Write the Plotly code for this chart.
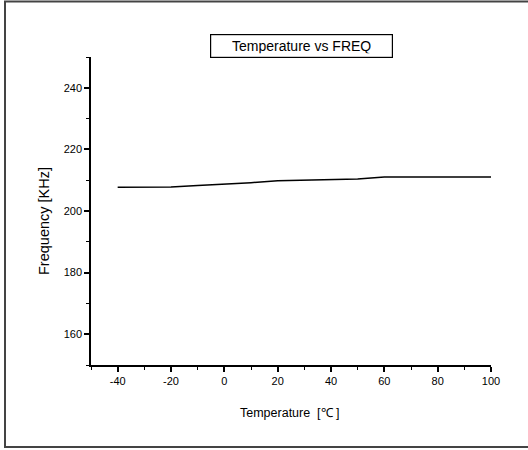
import plotly.graph_objects as go

temperature = [-40, -30, -20, -10, 0, 10, 20, 30, 40, 50, 60, 70, 80, 90, 100]
frequency = [207.7, 207.7, 207.8, 208.3, 208.7, 209.2, 209.8, 210.0, 210.1, 210.4, 211.0, 211.0, 211.0, 211.0, 211.0]

x_tick_values = [-40, -20, 0, 20, 40, 60, 80, 100]
x_tick_labels = ["-40", "-20", "0", "20", "40", "60", "80", "100"]
y_tick_values = [160, 180, 200, 220, 240]
y_tick_labels = ["160", "180", "200", "220", "240"]

title_text = "Temperature vs FREQ"
x_title = "Temperature\u00a0\u00a0[℃ ]"
y_title = "Frequency [KHz]"

W, H = 528, 450
L, R, T, B = 91, 491, 57, 365

fig = go.Figure()
fig.add_trace(go.Scatter(x=temperature, y=frequency, mode="lines",
                         line=dict(color="black", width=1.5), showlegend=False,
                         hoverinfo="skip"))

font = "Liberation Sans, Arial, sans-serif"


def px(xp):
    return (xp - L) / (R - L)


def py(yp):
    return (B - yp) / (B - T)


axis_common = dict(showgrid=False, zeroline=False,
                   showline=True, linecolor="black", linewidth=1.5,
                   ticks="outside", ticklen=5, tickwidth=1.5, tickcolor="black",
                   tickmode="array",
                   tickfont=dict(size=11, family=font, color="black"))

fig.update_layout(
    width=W, height=H,
    margin=dict(l=L, r=W - R, t=T, b=H - B),
    paper_bgcolor="white", plot_bgcolor="white",
    font=dict(family=font, size=11, color="black"),
    xaxis=dict(range=[-50, 100], tickvals=x_tick_values, ticktext=x_tick_labels,
               minor=dict(dtick=10, tick0=-50, ticks="outside", ticklen=3, tickwidth=1.2, tickcolor="black"),
               **axis_common),
    yaxis=dict(range=[150, 250], tickvals=y_tick_values, ticktext=y_tick_labels,
               minor=dict(dtick=10, tick0=150, ticks="outside", ticklen=3, tickwidth=1.2, tickcolor="black"),
               **axis_common),
    shapes=[dict(type="rect", xref="paper", yref="paper",
                 x0=px(5), x1=px(540), y0=py(447), y1=py(1.5),
                 line=dict(color="#444", width=2), fillcolor="rgba(0,0,0,0)", layer="below")],
    annotations=[
        dict(text=title_text, xref="paper", yref="paper", x=px(301.5), y=py(46),
             showarrow=False, font=dict(size=14, family=font, color="black"),
             bordercolor="black", borderwidth=1.2, borderpad=4, width=173, height=14,
             xanchor="center", yanchor="middle"),
        dict(text=x_title, xref="paper", yref="paper", x=px(290), y=py(413),
             showarrow=False, font=dict(size=12.5, family=font, color="black"),
             xanchor="center", yanchor="middle"),
        dict(text=y_title, xref="paper", yref="paper", x=px(44), y=py(221),
             showarrow=False, font=dict(size=14.5, family=font, color="black"),
             textangle=-90, xanchor="center", yanchor="middle"),
    ],
)

fig.write_html("out.html", config={"displayModeBar": False},
               post_script="document.body.style.margin='0';")
